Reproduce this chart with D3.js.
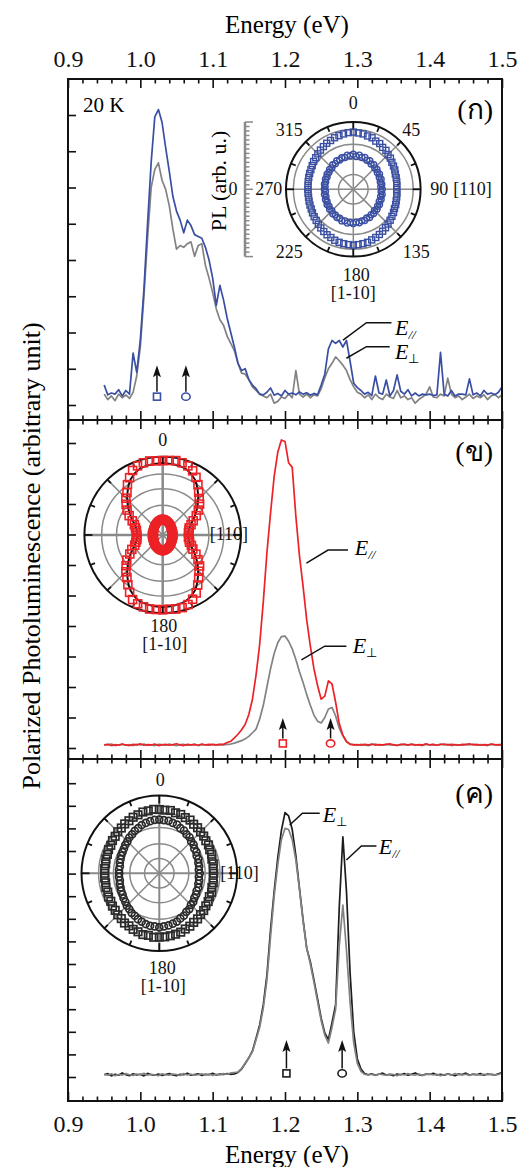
<!DOCTYPE html>
<html>
<head>
<meta charset="utf-8">
<title>Polarized PL</title>
<script src="https://d3js.org/d3.v7.min.js"></script>
<style>
  body { margin: 0; background: #fff; }
  svg { display: block; font-family: "Liberation Serif", "Times New Roman", serif; }
  .frame { fill: none; stroke: #111; stroke-width: 2; }
  .axis line { stroke: #111; stroke-width: 1.6px; }
  .axis text { font-size: 24px; font-family: "Liberation Serif", serif; fill: #111; }
  .trace { fill: none; stroke-width: 1.7; stroke-linejoin: round; }
  .grid { fill: none; stroke: #8a8a8a; stroke-width: 1.5; }
  .rim { fill: none; stroke: #111; stroke-width: 2; }
  .lab { font-size: 18px; fill: #111; }
  .leader { fill: none; stroke: #111; stroke-width: 1.5; }
</style>
</head>
<body>
<svg width="522" height="1167"></svg>
<script>
// energy grid shared by every spectrum (eV)
var energy = [
  0.95,0.955,0.96,0.965,0.97,0.975,0.98,0.985,0.99,0.995,
  1.00,1.005,1.01,1.015,1.02,1.025,1.03,1.035,1.04,1.045,
  1.05,1.055,1.06,1.065,1.07,1.075,1.08,1.085,1.09,1.095,
  1.10,1.105,1.11,1.115,1.12,1.125,1.13,1.135,1.14,1.145,
  1.15,1.155,1.16,1.165,1.17,1.175,1.18,1.185,1.19,1.195,
  1.20,1.205,1.21,1.215,1.22,1.225,1.23,1.235,1.24,1.245,
  1.25,1.255,1.26,1.265,1.27,1.275,1.28,1.285,1.29,1.295,
  1.30,1.305,1.31,1.315,1.32,1.325,1.33,1.335,1.34,1.345,
  1.35,1.355,1.36,1.365,1.37,1.375,1.38,1.385,1.39,1.395,
  1.40,1.405,1.41,1.415,1.42,1.425,1.43,1.435,1.44,1.445,
  1.45,1.455,1.46,1.465,1.47,1.475,1.48,1.485,1.49,1.495,
  1.50];

// panel (a): 20 K
var p1Para = [
  0.55,0.28,0.33,0.30,0.42,0.25,0.40,0.30,1.43,0.90,
  1.80,3.20,5.00,6.70,7.95,8.15,7.80,7.10,6.45,5.75,
  5.35,5.10,4.75,5.10,4.95,4.70,4.65,4.60,4.35,4.00,
  3.50,2.75,3.30,2.90,2.40,2.00,1.60,1.15,0.95,1.00,
  0.70,0.55,0.45,0.30,0.28,0.35,0.47,0.27,0.32,0.25,
  0.40,0.30,0.33,0.28,0.36,0.30,0.34,0.27,0.32,0.28,
  0.55,0.85,1.55,1.78,1.70,1.78,1.60,1.78,1.20,0.60,
  0.48,0.40,0.30,0.35,0.26,0.80,0.33,0.30,0.69,0.25,
  0.40,0.83,0.38,0.30,0.42,0.25,0.33,0.25,0.30,0.28,
  0.30,0.26,0.28,1.45,0.30,0.25,0.40,0.25,0.30,0.30,
  0.28,0.72,0.28,0.33,0.25,0.40,0.30,0.33,0.28,0.35,
  0.50];
var p1Perp = [
  0.30,0.15,0.25,0.12,0.30,0.20,0.28,0.18,0.35,0.80,
  1.60,3.00,4.60,6.00,6.50,6.68,6.20,5.95,5.50,4.85,
  4.30,4.40,4.35,4.45,4.50,4.10,4.40,4.45,3.85,3.50,
  3.10,2.65,2.35,2.20,1.90,1.70,1.50,1.15,0.88,0.85,
  0.70,0.50,0.40,0.30,0.25,0.20,0.30,0.05,0.10,0.22,
  0.18,0.30,0.20,0.95,0.30,0.22,0.30,0.20,0.28,0.25,
  0.45,0.75,1.00,1.15,1.33,1.22,1.10,0.95,0.70,0.50,
  0.35,0.30,0.20,0.28,0.15,0.30,0.20,0.15,0.30,0.22,
  0.18,0.40,0.20,0.25,0.15,0.20,0.05,0.15,0.22,0.30,
  0.50,0.22,0.20,0.30,0.25,0.74,0.30,0.20,0.25,0.15,
  0.22,0.30,0.18,0.25,0.20,0.28,0.15,0.25,0.30,0.20,
  0.28];

// panel (b)
var p2Para = [
  0.10,0.12,0.08,0.11,0.09,0.13,0.10,0.08,0.12,0.10,
  0.14,0.09,0.11,0.10,0.13,0.08,0.10,0.12,0.09,0.11,
  0.14,0.10,0.08,0.12,0.10,0.11,0.09,0.13,0.10,0.12,
  0.11,0.10,0.12,
  0.12,0.18,0.22,0.33,0.45,0.60,0.78,1.10,1.60,2.40,
  3.40,4.80,6.40,7.70,8.90,9.70,10.10,10.05,9.35,9.20,
  7.60,6.30,5.30,4.20,3.35,2.60,2.05,1.60,1.70,2.20,
  2.10,1.50,0.80,0.42,0.20,0.12,
  0.10,0.11,0.09,0.12,0.10,0.13,0.09,0.11,0.10,0.12,
  0.14,0.10,0.09,0.11,0.13,0.10,0.12,0.09,0.11,0.10,
  0.14,0.10,0.12,0.09,0.11,0.13,0.10,0.12,0.10,0.09,
  0.12,0.11,0.14,0.10,0.12,0.09,0.11,0.10,0.13,0.11,
  0.10,0.12];
var p2Perp = [
  0.09,0.11,0.13,0.08,0.10,0.12,0.09,0.11,0.08,0.12,
  0.10,0.13,0.09,0.10,0.08,0.12,0.11,0.09,0.13,0.10,
  0.08,0.11,0.12,0.09,0.10,0.13,0.08,0.11,0.10,0.09,
  0.12,0.10,0.11,
  0.10,0.12,0.13,0.16,0.20,0.24,0.30,0.38,0.50,0.62,
  0.95,1.40,2.00,2.60,3.10,3.45,3.65,3.67,3.50,3.25,
  2.90,2.50,2.15,1.75,1.40,1.08,0.88,0.82,1.00,1.28,
  1.33,1.05,0.65,0.40,0.22,0.13,
  0.11,0.09,0.12,0.10,0.08,0.11,0.13,0.10,0.09,0.12,
  0.10,0.11,0.08,0.12,0.10,0.09,0.13,0.11,0.10,0.08,
  0.12,0.10,0.11,0.09,0.13,0.10,0.12,0.08,0.11,0.10,
  0.09,0.12,0.10,0.13,0.09,0.11,0.10,0.08,0.12,0.10,
  0.11,0.09];

// panel (c)
var p3Black = [
  0.10,0.15,0.05,0.12,0.08,0.18,0.10,0.06,0.14,0.09,
  0.12,0.05,0.16,0.10,0.08,0.13,0.07,0.11,0.15,0.09,
  0.06,0.12,0.10,0.17,0.08,0.11,0.14,0.07,0.12,0.10,
  0.16,0.09,0.13,0.11,0.15,0.12,0.14,
  0.20,0.35,0.60,0.85,1.15,1.72,2.30,3.20,4.50,6.50,
  8.20,9.70,10.90,11.70,11.55,10.95,9.80,8.35,6.95,5.70,
  5.10,4.30,3.45,2.60,1.95,1.65,2.40,3.20,7.50,10.63,
  8.20,4.60,2.00,0.80,0.35,0.15,
  0.10,0.14,0.08,0.12,0.17,0.09,0.11,0.06,0.13,0.10,
  0.15,0.08,0.12,0.18,0.10,0.07,0.13,0.11,0.16,0.09,
  0.12,0.08,0.14,0.10,0.06,0.13,0.11,0.17,0.09,0.12,
  0.10,0.15,0.08,0.13,0.11,0.09,0.14,0.20];
var p3Gray = [
  0.12,0.08,0.14,0.06,0.11,0.09,0.15,0.10,0.07,0.13,
  0.10,0.16,0.08,0.12,0.09,0.06,0.14,0.10,0.08,0.13,
  0.11,0.07,0.15,0.09,0.12,0.08,0.10,0.14,0.09,0.13,
  0.07,0.12,0.10,0.15,0.12,0.18,0.20,
  0.22,0.38,0.62,0.85,1.12,1.65,2.20,3.05,4.30,6.20,
  8.00,9.40,10.50,11.00,10.95,10.50,9.60,8.30,6.90,5.70,
  5.00,4.20,3.35,2.50,1.85,1.50,2.20,3.00,5.80,7.61,
  5.60,3.30,1.50,0.60,0.25,0.12,
  0.09,0.12,0.07,0.14,0.10,0.08,0.13,0.11,0.06,0.12,
  0.09,0.15,0.10,0.08,0.13,0.07,0.11,0.14,0.09,0.12,
  0.06,0.10,0.13,0.08,0.15,0.10,0.09,0.12,0.07,0.14,
  0.11,0.08,0.12,0.10,0.13,0.09,0.11,0.18];

// excitation-energy arrows (eV)
var p1Marks = [1.023, 1.063];
var p2Marks = [1.197, 1.263];
var p3Marks = [1.202, 1.279];

// polar angles (deg, 0 = top, clockwise) and PL amplitude, fraction of the outer ring
var polarAngles = [0,5,10,15,20,25,30,35,40,45,50,55,60,65,70,75,80,85,90,95,100,105,110,115,
  120,125,130,135,140,145,150,155,160,165,170,175,180,185,190,195,200,205,210,215,220,225,230,235,
  240,245,250,255,260,265,270,275,280,285,290,295,300,305,310,315,320,325,330,335,340,345,350,355];
var fitAngles = [0,10,20,30,40,50,60,70,80,90,100,110,120,130,140,150,160,170,
  180,190,200,210,220,230,240,250,260,270,280,290,300,310,320,330,340,350];

var p1PolarSq = [
  0.85,0.84,0.835,0.82,0.815,0.79,0.785,0.76,0.755,0.73,0.72,0.70,
  0.69,0.68,0.665,0.66,0.655,0.65,0.645,0.65,0.655,0.66,0.67,0.675,
  0.69,0.70,0.715,0.73,0.745,0.76,0.775,0.79,0.80,0.815,0.82,0.825,
  0.83,0.825,0.82,0.815,0.805,0.79,0.78,0.765,0.75,0.735,0.72,0.71,
  0.70,0.69,0.685,0.68,0.675,0.675,0.675,0.675,0.68,0.685,0.69,0.695,
  0.705,0.72,0.73,0.745,0.76,0.775,0.79,0.80,0.815,0.825,0.835,0.845];
var p1PolarCirc = [
  0.52,0.49,0.515,0.49,0.505,0.475,0.49,0.46,0.475,0.45,0.46,0.435,
  0.45,0.425,0.44,0.415,0.43,0.41,0.43,0.415,0.435,0.42,0.44,0.425,
  0.45,0.44,0.46,0.445,0.47,0.46,0.485,0.47,0.495,0.485,0.505,0.49,
  0.51,0.495,0.51,0.485,0.50,0.475,0.485,0.465,0.475,0.45,0.46,0.44,
  0.45,0.43,0.44,0.42,0.435,0.415,0.43,0.42,0.435,0.425,0.44,0.43,
  0.45,0.44,0.46,0.45,0.475,0.465,0.49,0.48,0.50,0.49,0.515,0.50];

var p2PolarSq = [
  0.95,0.955,0.965,0.955,0.94,0.905,0.85,0.785,0.715,0.66,0.615,0.555,
  0.495,0.43,0.385,0.35,0.34,0.33,0.335,0.33,0.345,0.355,0.39,0.425,
  0.49,0.55,0.615,0.655,0.715,0.78,0.855,0.905,0.945,0.96,0.96,0.95,
  0.955,0.955,0.96,0.95,0.935,0.91,0.845,0.775,0.71,0.665,0.61,0.56,
  0.485,0.435,0.38,0.355,0.335,0.335,0.33,0.34,0.34,0.36,0.385,0.43,
  0.495,0.555,0.61,0.665,0.71,0.785,0.845,0.91,0.94,0.955,0.96,0.95];
var p2PolarCirc = [
  0.20,0.195,0.198,0.186,0.185,0.172,0.172,0.158,0.16,0.146,0.148,0.136,
  0.138,0.128,0.132,0.122,0.128,0.12,0.127,0.121,0.128,0.124,0.131,0.128,
  0.137,0.137,0.146,0.148,0.158,0.16,0.172,0.173,0.185,0.186,0.196,0.194,
  0.202,0.194,0.197,0.185,0.186,0.171,0.173,0.157,0.16,0.147,0.147,0.137,
  0.137,0.129,0.131,0.123,0.127,0.121,0.126,0.12,0.128,0.123,0.131,0.129,
  0.136,0.138,0.145,0.149,0.157,0.161,0.171,0.174,0.184,0.187,0.195,0.196];
var p2PolarFit = [
  0.915,0.91,0.89,0.82,0.70,0.58,0.47,0.38,0.335,0.325,0.335,0.38,0.47,0.58,0.70,0.82,0.89,0.91,
  0.915,0.91,0.89,0.82,0.70,0.58,0.47,0.38,0.335,0.325,0.335,0.38,0.47,0.58,0.70,0.82,0.89,0.91];

var p3PolarSq = [
  0.82,0.815,0.82,0.805,0.805,0.79,0.79,0.77,0.765,0.75,0.745,0.73,
  0.73,0.715,0.715,0.70,0.705,0.695,0.70,0.695,0.705,0.70,0.715,0.71,
  0.725,0.73,0.745,0.75,0.765,0.77,0.785,0.79,0.805,0.81,0.815,0.82,
  0.82,0.825,0.81,0.815,0.80,0.795,0.78,0.78,0.76,0.755,0.74,0.735,
  0.72,0.72,0.705,0.71,0.70,0.705,0.70,0.705,0.70,0.71,0.71,0.72,
  0.72,0.735,0.74,0.755,0.76,0.775,0.78,0.795,0.80,0.815,0.815,0.825];
var p3PolarCirc = [
  0.69,0.685,0.685,0.67,0.665,0.64,0.635,0.61,0.605,0.58,0.575,0.55,
  0.55,0.53,0.535,0.52,0.52,0.51,0.52,0.51,0.52,0.52,0.535,0.53,
  0.545,0.55,0.57,0.575,0.60,0.605,0.63,0.64,0.66,0.67,0.68,0.685,
  0.695,0.685,0.685,0.675,0.66,0.65,0.63,0.62,0.60,0.59,0.57,0.56,
  0.545,0.54,0.53,0.525,0.515,0.52,0.515,0.52,0.515,0.525,0.53,0.54,
  0.545,0.555,0.57,0.58,0.60,0.61,0.63,0.64,0.66,0.67,0.68,0.69];

var BLUE = "#3a4fa3", RED = "#ec2227", GRAY = "#828282", BLACK = "#1c1c1c";

var svg = d3.select("svg");
svg.append("rect").attr("width", 522).attr("height", 1167).attr("fill", "#fff");

var x = d3.scaleLinear().domain([0.9, 1.5]).range([68, 502]);
var majorE = [0.9, 1.0, 1.1, 1.2, 1.3, 1.4, 1.5];
var minorE = d3.range(90, 151, 2).filter(d => d % 10).map(d => d / 100);

var panels = [
  { top: 79, bottom: 420, y: d3.scaleLinear().domain([0, 8]).range([405, 115]), nTicks: 8,
    series: [{ v: p1Perp, c: GRAY }, { v: p1Para, c: BLUE }],
    marks: p1Marks, tip: 1.1, base: 0.23, mc: BLUE, label: "(ก)", labelY: 119,
    notes: [
      { sub: "//", e: 1.352, v: 1.93, pts: [[1.2802, 1.79], [1.3126, 2.27], [1.3472, 2.27]] },
      { sub: "\u22a5", e: 1.352, v: 1.27, pts: [[1.2849, 1.29], [1.3126, 1.61], [1.3448, 1.61]] }] },
  { top: 420, bottom: 759, y: d3.scaleLinear().domain([0, 10]).range([748, 443]), nTicks: 10,
    series: [{ v: p2Perp, c: GRAY }, { v: p2Para, c: RED }],
    marks: p2Marks, tip: 0.98, base: 0.15, mc: RED, label: "(ข)", labelY: 461,
    notes: [
      { sub: "//", e: 1.2964, v: 6.33, pts: [[1.2296, 6.06], [1.2595, 6.49], [1.2871, 6.49]] },
      { sub: "\u22a5", e: 1.2936, v: 3.11, pts: [[1.2227, 2.89], [1.2549, 3.34], [1.2849, 3.34]] }] },
  { top: 759, bottom: 1101, y: d3.scaleLinear().domain([0, 13]).range([1077, 783.2]), nTicks: 13,
    series: [{ v: p3Black, c: BLACK }, { v: p3Gray, c: GRAY }],
    marks: p3Marks, tip: 1.64, base: 0.16, mc: BLACK, label: "(ค)", labelY: 803,
    notes: [
      { sub: "\u22a5", e: 1.2521, v: 11.30, pts: [[1.2065, 11.15], [1.2241, 11.67], [1.248, 11.67]] },
      { sub: "//", e: 1.3296, v: 9.87, pts: [[1.2849, 9.6], [1.3056, 10.22], [1.3264, 10.22]] }] }
];

panels.forEach(function (p, i) {
  var g = svg.append("g");
  var y = p.y;

  // x ticks, pointing into the panel on both edges
  var topAx = g.append("g").attr("class", "axis").attr("transform", "translate(0," + p.top + ")");
  topAx.append("g").call(d3.axisTop(x).tickValues(minorE).tickSize(-4.5).tickFormat(""));
  topAx.append("g").call(d3.axisTop(x).tickValues(majorE).tickSize(-9).tickPadding(12)
    .tickFormat(i === 0 ? d3.format(".1f") : ""));
  var botAx = g.append("g").attr("class", "axis").attr("transform", "translate(0," + p.bottom + ")");
  botAx.append("g").call(d3.axisBottom(x).tickValues(minorE).tickSize(-4.5).tickFormat(""));
  botAx.append("g").call(d3.axisBottom(x).tickValues(majorE).tickSize(-9).tickPadding(14)
    .tickFormat(i === 2 ? d3.format(".1f") : ""));
  g.append("g").attr("class", "axis").attr("transform", "translate(68,0)")
    .call(d3.axisLeft(y).tickValues(d3.range(0, p.nTicks + 1)).tickSize(-8).tickFormat(""));
  g.selectAll(".domain").remove();
  g.selectAll(".axis g").attr("font-size", null).attr("font-family", null);

  // spectra
  var line = d3.line().x((d, k) => x(energy[k])).y(d => y(d));
  p.series.forEach(function (s) {
    g.append("path").attr("class", "trace").attr("stroke", s.c).attr("d", line(s.v));
  });

  // arrows with the symbol of the polar data set
  p.marks.forEach(function (e, k) {
    var px = x(e), yt = y(p.tip), ym = y(p.base);
    g.append("line").attr("x1", px).attr("x2", px).attr("y1", ym - 5).attr("y2", yt + 8)
      .attr("stroke", "#111").attr("stroke-width", 1.5);
    g.append("path").attr("fill", "#111")
      .attr("d", "M" + px + "," + yt + "L" + (px - 4) + "," + (yt + 12) + "L" + px + "," + (yt + 9.5) +
        "L" + (px + 4) + "," + (yt + 12) + "Z");
    if (k === 0) {
      g.append("rect").attr("x", px - 3.5).attr("y", ym - 3.5).attr("width", 7).attr("height", 7)
        .attr("fill", "none").attr("stroke", p.mc).attr("stroke-width", 1.6);
    } else {
      g.append("ellipse").attr("cx", px).attr("cy", ym).attr("rx", 4.2).attr("ry", 3.6)
        .attr("fill", "none").attr("stroke", p.mc).attr("stroke-width", 1.6);
    }
  });

  // E labels with leader lines
  var lead = d3.line().x(d => x(d[0])).y(d => y(d[1]));
  p.notes.forEach(function (n) {
    g.append("path").attr("class", "leader").attr("d", lead(n.pts));
    var t = g.append("text").attr("x", x(n.e)).attr("y", y(n.v)).style("font-size", "22px");
    t.append("tspan").style("font-style", "italic").text("E");
    t.append("tspan").attr("dy", 4).style("font-size", "13px")
      .style("font-style", n.sub === "//" ? "italic" : "normal").text(n.sub);
  });

  g.append("text").attr("x", 493).attr("y", p.labelY).attr("text-anchor", "end")
    .style("font-size", "28px").text(p.label);

  g.append("rect").attr("class", "frame").attr("x", 68).attr("y", p.top)
    .attr("width", 434).attr("height", p.bottom - p.top);
});

// polar insets
function polar(cfg) {
  var g = svg.append("g").attr("transform", "translate(" + cfg.cx + "," + cfg.cy + ")");
  var r = d3.scaleLinear().domain([0, 1]).range([0, cfg.R]);
  var pt = function (deg, v) {
    var a = deg * Math.PI / 180;
    return [r(v) * Math.sin(a), -r(v) * Math.cos(a)];
  };
  g.selectAll("circle.grid").data(cfg.grid).join("circle").attr("class", "grid").attr("r", d => r(d));
  g.selectAll("line.spoke").data([0, 45, 90, 135]).join("line").attr("class", "grid")
    .attr("x1", d => pt(d, 1)[0]).attr("y1", d => pt(d, 1)[1])
    .attr("x2", d => pt(d + 180, 1)[0]).attr("y2", d => pt(d + 180, 1)[1])
    .style("stroke-width", d => d % 90 === 0 ? cfg.axisW : 1.5);
  g.append("circle").attr("class", "rim").attr("r", cfg.R);
  g.selectAll("line.rt").data(d3.range(0, 360, 22.5)).join("line")
    .attr("stroke", "#111").attr("stroke-width", 1.8)
    .attr("x1", d => pt(d, 1)[0]).attr("y1", d => pt(d, 1)[1])
    .attr("x2", d => pt(d, 1 - (d % 90 === 0 ? 8 : 5) / cfg.R)[0])
    .attr("y2", d => pt(d, 1 - (d % 90 === 0 ? 8 : 5) / cfg.R)[1]);

  if (cfg.fit) {
    g.append("path").attr("fill", "none").attr("stroke", "#111").attr("stroke-width", 2)
      .attr("d", d3.lineRadial().angle((d, k) => fitAngles[k] * Math.PI / 180).radius(d => r(d))
        .curve(d3.curveCatmullRomClosed)(cfg.fit));
  }
  cfg.series.forEach(function (s) {
    var pts = polarAngles.map((a, k) => pt(a, s.vals[k]));
    var sel = g.append("g").attr("fill", "none").attr("stroke", s.color).attr("stroke-width", s.w);
    if (s.shape === "square") {
      sel.selectAll("rect").data(pts).join("rect")
        .attr("x", d => d[0] - s.size / 2).attr("y", d => d[1] - s.size / 2)
        .attr("width", s.size).attr("height", s.size);
    } else {
      sel.selectAll("circle").data(pts).join("circle")
        .attr("cx", d => d[0]).attr("cy", d => d[1]).attr("r", s.size / 2);
    }
  });
  cfg.labels.forEach(function (l) {
    g.append("text").attr("class", "lab").attr("x", l[1]).attr("y", l[2])
      .attr("text-anchor", l[3] || "middle").text(l[0]);
  });
  return g;
}

polar({
  cx: 353.3, cy: 189.3, R: 67.3, grid: [0.22, 0.45, 0.67, 0.89], axisW: 1.5,
  series: [
    { vals: p1PolarSq, shape: "square", size: 6, color: BLUE, w: 1.4 },
    { vals: p1PolarCirc, shape: "circle", size: 6, color: BLUE, w: 1.4 }],
  labels: [["0", 0, -80], ["45", 58, -53], ["315", -64, -53], ["90", 77, 6, "start"],
    ["[110]", 100, 6, "start"], ["270", -71, 6, "end"], ["135", 63, 69], ["225", -64, 69],
    ["180", 3, 92], ["[1-10]", 0, 110]]
});

// radial scale bar of inset (a)
var bar = d3.scaleLinear().domain([-1, 1]).range([189.3 + 67.3, 189.3 - 67.3]);
var barG = svg.append("g").attr("stroke", "#8a8a8a").attr("stroke-width", 1.5);
barG.append("line").attr("x1", 245).attr("x2", 245).attr("y1", bar(-1)).attr("y2", bar(1)).attr("stroke-width", 2.5);
barG.selectAll("line.bt").data(d3.range(-15, 16)).join("line")
  .attr("x1", 245).attr("x2", d => d % 15 === 0 || d === 0 ? 253 : 249.5)
  .attr("y1", d => bar(d / 15)).attr("y2", d => bar(d / 15));
svg.append("text").attr("class", "lab").attr("x", 233).attr("y", 195).attr("text-anchor", "middle").text("0");
svg.append("text").attr("transform", "translate(226,181) rotate(-90)").attr("text-anchor", "middle")
  .style("font-size", "22px").text("PL (arb. u.)");

polar({
  cx: 162.7, cy: 535, R: 78.3, grid: [0.19, 0.38, 0.59, 0.78], axisW: 2.5,
  fit: p2PolarFit,
  series: [
    { vals: p2PolarSq, shape: "square", size: 8, color: RED, w: 1.6 },
    { vals: p2PolarCirc, shape: "circle", size: 8, color: RED, w: 2.2 }],
  labels: [["0", 0, -89], ["[110]", 47, 5, "start"], ["180", 1, 97], ["[1-10]", 2, 115]]
});

polar({
  cx: 159.3, cy: 873.3, R: 77.8, grid: [0.19, 0.38, 0.59, 0.78], axisW: 2,
  series: [
    { vals: p3PolarSq, shape: "square", size: 7.5, color: "#2a2a2a", w: 1.7 },
    { vals: p3PolarCirc, shape: "circle", size: 7, color: "#2a2a2a", w: 1.7 }],
  labels: [["0", 1, -87], ["[110]", 61, 6, "start"], ["180", 3, 101], ["[1-10]", 4, 119]]
});

// titles
svg.append("text").attr("x", 287).attr("y", 33).attr("text-anchor", "middle")
  .style("font-size", "25px").text("Energy (eV)");
svg.append("text").attr("x", 287).attr("y", 1163).attr("text-anchor", "middle")
  .style("font-size", "25px").text("Energy (eV)");
svg.append("text").attr("transform", "translate(40,556) rotate(-90)").attr("text-anchor", "middle")
  .style("font-size", "26px").text("Polarized Photoluminescence (arbitrary unit)");
svg.append("text").attr("x", 83).attr("y", 112).style("font-size", "21px").text("20 K");
</script>
</body>
</html>
